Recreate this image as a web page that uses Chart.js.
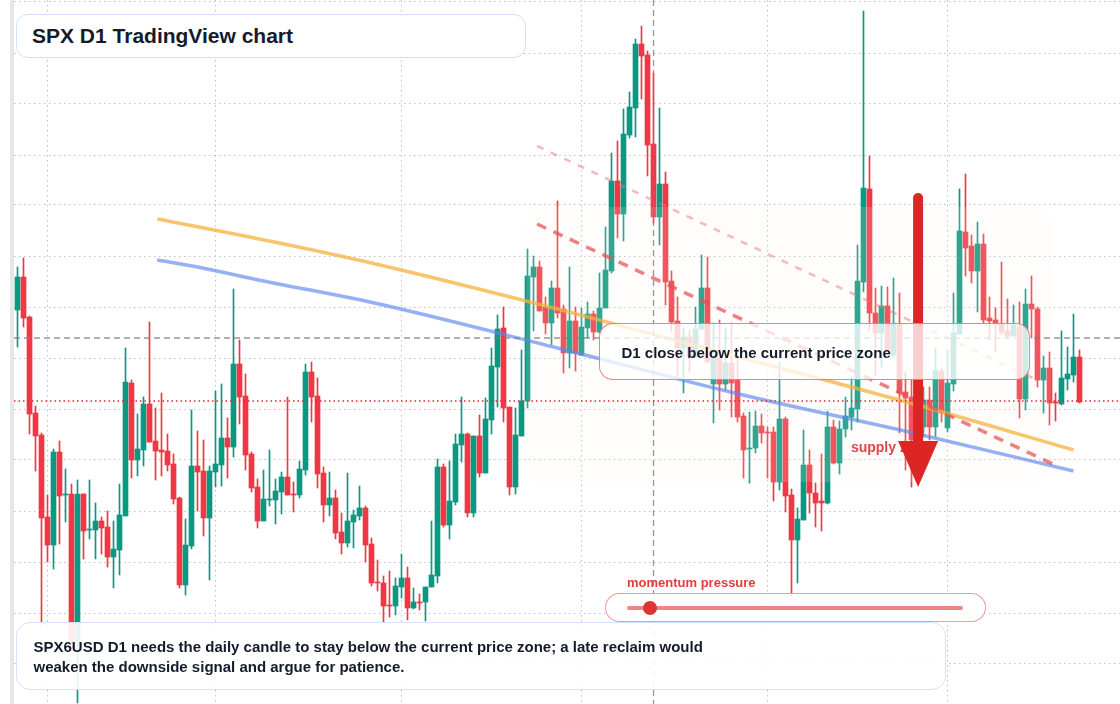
<!DOCTYPE html>
<html>
<head>
<meta charset="utf-8">
<script src="https://cdn.jsdelivr.net/npm/chart.js@4.4.1/dist/chart.umd.min.js"></script>
<style>
  body { margin: 0; background: #fff; font-family: "Liberation Sans", Arial, sans-serif; }
  #wrap { position: relative; width: 1120px; height: 704px; overflow: hidden; }
  #chart { position: absolute; left: 0; top: 0; }
  .box { position: absolute; box-sizing: border-box; font-weight: bold; color: #141b2b; white-space: nowrap; }
  #title { left: 16px; top: 14px; width: 510px; height: 44px; border: 1.5px solid #d0e0fb; border-radius: 12px;
           background: #fff; padding-left: 15px; font-size: 21px; line-height: 41px; }
  #callout { left: 599px; top: 323px; width: 431px; height: 57px; border: 1.5px solid rgba(232, 96, 100, 0.78);
             border-radius: 14px; background: rgba(255, 255, 255, 0.78); padding: 4px 0 0 21.5px;
             font-size: 15px; line-height: 50px; }
  #footer { left: 16px; top: 622px; width: 930px; height: 68px; border: 1.5px solid #d6e3fb; border-radius: 14px;
            background: rgba(255, 255, 255, 0.9); padding: 14px 0 0 16.5px; font-size: 15px; line-height: 20px; }
  #momLabel { position: absolute; left: 627px; top: 575px; font-size: 13px; line-height: 16px; font-weight: bold; color: #e23d3d; }
  #slider { position: absolute; box-sizing: border-box; left: 605px; top: 593px; width: 381px; height: 29px;
            border: 1.5px solid rgba(228, 88, 88, 0.6); border-radius: 15px; background: rgba(255, 255, 255, 0.85); }
  #track { position: absolute; left: 627px; top: 606px; width: 336px; height: 4px; border-radius: 2px; background: rgba(228, 70, 70, 0.65); }
  #knob { position: absolute; left: 643px; top: 601px; width: 14px; height: 14px; border-radius: 50%; background: #df3434; }
</style>
</head>
<body>
<div id="wrap">
  <canvas id="chart" width="1120" height="704"></canvas>
  <div class="box" id="title">SPX D1 TradingView chart</div>
  <div class="box" id="callout">D1 close below the current price zone</div>
  <div id="momLabel">momentum pressure</div>
  <div id="slider"></div>
  <div id="track"></div>
  <div id="knob"></div>
  <div class="box" id="footer">SPX6USD D1 needs the daily candle to stay below the current price zone; a late reclaim would<br>weaken the downside signal and argue for patience.</div>
</div>
<script>
// daily OHLC
const open = [6690, 6723, 6683, 6587, 6565, 6483, 6455, 6548, 6505, 6506,
  6358, 6506, 6470, 6470, 6479, 6473, 6443, 6450, 6484, 6617,
  6540, 6550, 6596, 6559, 6550, 6549, 6536, 6502, 6415, 6454,
  6534, 6529, 6482, 6528, 6535, 6562, 6553, 6636, 6604, 6546,
  6513, 6479, 6500, 6500, 6508, 6523, 6506, 6505, 6530, 6628,
  6604, 6527, 6495, 6502, 6468, 6457, 6478, 6484, 6492, 6456,
  6418, 6417, 6395, 6394, 6413, 6422, 6392, 6398, 6398, 6413,
  6424, 6533, 6475, 6498, 6555, 6566, 6487, 6564, 6527, 6580,
  6633, 6672, 6593, 6513, 6564, 6599, 6723, 6733, 6693, 6677,
  6712, 6691, 6647, 6679, 6645, 6672, 6686, 6668, 6692, 6729,
  6819, 6786, 6865, 6892, 6956, 6945, 6856, 6783, 6816, 6719,
  6679, 6652, 6663, 6643, 6671, 6712, 6616, 6642, 6616, 6637,
  6620, 6584, 6551, 6552, 6574, 6568, 6568, 6518, 6581, 6505,
  6460, 6480, 6535, 6507, 6499, 6497, 6573, 6537, 6571, 6583,
  6591, 6718, 6811, 6687, 6667, 6694, 6645, 6676, 6608, 6603,
  6560, 6573, 6600, 6573, 6629, 6572, 6616, 6666, 6768, 6754,
  6729, 6756, 6682, 6680, 6676, 6669, 6664, 6673, 6601, 6696,
  6691, 6620, 6632, 6598, 6596, 6621, 6625, 6643];
const high = [6733, 6742, 6684, 6594, 6567, 6505, 6551, 6559, 6531, 6516,
  6520, 6506, 6520, 6497, 6483, 6489, 6479, 6516, 6652, 6620,
  6586, 6603, 6678, 6592, 6607, 6566, 6546, 6503, 6481, 6590,
  6569, 6560, 6534, 6609, 6616, 6582, 6711, 6660, 6626, 6548,
  6521, 6530, 6550, 6521, 6528, 6603, 6518, 6539, 6636, 6638,
  6622, 6533, 6528, 6510, 6487, 6527, 6490, 6514, 6494, 6462,
  6440, 6424, 6429, 6422, 6446, 6433, 6412, 6406, 6413, 6479,
  6541, 6536, 6539, 6566, 6603, 6567, 6564, 6585, 6602, 6652,
  6685, 6693, 6593, 6592, 6650, 6751, 6744, 6739, 6703, 6719,
  6799, 6695, 6733, 6693, 6692, 6698, 6689, 6727, 6773, 6847,
  6859, 6891, 6908, 6961, 6974, 6949, 6927, 6892, 6828, 6729,
  6703, 6672, 6670, 6693, 6745, 6743, 6677, 6680, 6672, 6677,
  6643, 6587, 6588, 6589, 6586, 6573, 6573, 6638, 6583, 6511,
  6492, 6570, 6550, 6517, 6546, 6589, 6580, 6579, 6603, 6623,
  6755, 6989, 6844, 6712, 6714, 6713, 6722, 6707, 6628, 6620,
  6605, 6613, 6613, 6652, 6632, 6650, 6707, 6811, 6826, 6765,
  6778, 6766, 6703, 6692, 6738, 6701, 6695, 6698, 6711, 6724,
  6693, 6644, 6648, 6607, 6669, 6653, 6686, 6650];
const low = [6653, 6673, 6566, 6529, 6375, 6438, 6431, 6456, 6478, 6350,
  6297, 6441, 6461, 6441, 6446, 6433, 6412, 6425, 6484, 6522,
  6524, 6534, 6558, 6520, 6524, 6529, 6496, 6412, 6405, 6451,
  6489, 6464, 6420, 6513, 6514, 6522, 6543, 6576, 6530, 6508,
  6472, 6479, 6494, 6476, 6486, 6505, 6488, 6502, 6525, 6578,
  6512, 6478, 6484, 6461, 6446, 6453, 6452, 6480, 6438, 6414,
  6409, 6377, 6383, 6385, 6402, 6380, 6391, 6390, 6379, 6413,
  6417, 6473, 6461, 6495, 6538, 6483, 6483, 6523, 6527, 6566,
  6593, 6578, 6505, 6506, 6564, 6592, 6669, 6689, 6666, 6655,
  6682, 6627, 6632, 6629, 6645, 6662, 6660, 6667, 6692, 6727,
  6762, 6759, 6862, 6863, 6901, 6824, 6777, 6755, 6695, 6668,
  6623, 6607, 6628, 6642, 6671, 6637, 6577, 6590, 6610, 6583,
  6578, 6522, 6517, 6547, 6557, 6522, 6499, 6510, 6488, 6403,
  6417, 6480, 6487, 6473, 6469, 6496, 6536, 6526, 6563, 6570,
  6578, 6708, 6670, 6625, 6633, 6648, 6643, 6567, 6530, 6513,
  6550, 6563, 6560, 6563, 6578, 6568, 6609, 6666, 6724, 6717,
  6688, 6677, 6660, 6648, 6665, 6662, 6664, 6582, 6590, 6662,
  6613, 6587, 6575, 6579, 6595, 6610, 6618, 6597];
const close = [6723, 6682, 6586, 6564, 6482, 6455, 6548, 6504, 6506, 6358,
  6506, 6469, 6471, 6479, 6472, 6443, 6451, 6485, 6618, 6540,
  6551, 6596, 6558, 6549, 6548, 6535, 6501, 6415, 6455, 6534,
  6528, 6482, 6529, 6536, 6562, 6553, 6636, 6603, 6545, 6512,
  6479, 6501, 6501, 6509, 6523, 6505, 6505, 6531, 6628, 6603,
  6526, 6495, 6502, 6467, 6457, 6479, 6485, 6492, 6455, 6417,
  6417, 6394, 6394, 6414, 6422, 6392, 6398, 6397, 6413, 6425,
  6533, 6475, 6499, 6556, 6566, 6487, 6564, 6527, 6581, 6634,
  6671, 6592, 6513, 6565, 6599, 6724, 6733, 6689, 6677, 6712,
  6687, 6647, 6679, 6647, 6673, 6686, 6668, 6692, 6730, 6819,
  6786, 6866, 6893, 6956, 6944, 6855, 6783, 6816, 6718, 6678,
  6652, 6663, 6643, 6671, 6712, 6638, 6642, 6616, 6637, 6617,
  6583, 6550, 6552, 6574, 6567, 6567, 6518, 6581, 6504, 6460,
  6481, 6535, 6507, 6497, 6497, 6573, 6537, 6571, 6584, 6592,
  6719, 6812, 6687, 6667, 6694, 6650, 6676, 6607, 6602, 6560,
  6595, 6600, 6573, 6630, 6587, 6617, 6667, 6769, 6752, 6729,
  6756, 6680, 6679, 6676, 6668, 6664, 6675, 6601, 6696, 6691,
  6620, 6632, 6597, 6597, 6622, 6626, 6643, 6598];

// grid: month starts (bar index) and price levels
const monthStarts = [5, 33, 64, 94, 125, 155];
const priceGrid = [6998, 6947, 6896, 6845, 6795, 6744, 6693, 6642, 6591, 6540, 6489, 6438, 6387, 6337];

// moving averages (sampled points)
const fastDays = [23.3, 42, 59, 90, 119.5, 150, 176];
const fastMA = [6781, 6759, 6737, 6691, 6644, 6595, 6550];
const slowDays = [23.3, 30, 41, 59.5, 90, 119.5, 150, 176];
const slowMA = [6740, 6733, 6719, 6697, 6652, 6607, 6566, 6529];

// trend lines
const upperDays = [86.6, 169.6];
const upperLine = [6854, 6621];
const lowerDays = [86.6, 172.6];
const lowerLine = [6776, 6536];

// annotations
const zoneDays = [84.8, 172.3];
const zonePrices = [6518, 6793];
const closeLevel = 6662;
const triggerLevel = 6599;
const cursorDay = 106;
const arrowDay = 150.1;
const arrowPrices = [6802, 6513];
const supplyAt = [138.9, 6548];

const days = open.map((v, i) => i);
const GREEN = '#089981';
const RED = '#f23645';
const candleColors = days.map(i => close[i] >= open[i] ? GREEN : RED);

const xMin = -0.5833;
const xMax = 183.75;

const annotations = {
  id: 'annotations',
  beforeDatasetsDraw(chart) {
    const ctx = chart.ctx;
    ctx.save();
    ctx.fillStyle = '#e7e7e7';
    ctx.fillRect(10, 0, 4, chart.height);
    ctx.restore();
  },
  afterDatasetDraw(chart, args) {
    if (args.meta.label !== 'body') return;
    const ctx = chart.ctx;
    const x = chart.scales.x, y = chart.scales.y;
    const x0 = x.getPixelForValue(zoneDays[0]), x1 = x.getPixelForValue(zoneDays[1]);
    const y0 = y.getPixelForValue(zonePrices[1]), y1 = y.getPixelForValue(zonePrices[0]);
    ctx.save();
    ctx.fillStyle = 'rgba(250,240,232,0.16)';
    ctx.beginPath();
    ctx.roundRect(x0, y0, x1 - x0, y1 - y0, 20);
    ctx.fill();
    ctx.restore();
  },
  afterDatasetsDraw(chart) {
    const ctx = chart.ctx;
    const area = chart.chartArea;
    const x = chart.scales.x, y = chart.scales.y;
    ctx.save();

    // current price level
    let py = y.getPixelForValue(closeLevel);
    ctx.strokeStyle = 'rgba(125,125,125,0.8)';
    ctx.lineWidth = 1.3;
    ctx.setLineDash([6, 4]);
    ctx.beginPath(); ctx.moveTo(area.left, py); ctx.lineTo(area.right, py); ctx.stroke();

    // crosshair day
    const cx = x.getPixelForValue(cursorDay);
    ctx.beginPath(); ctx.moveTo(cx, area.top); ctx.lineTo(cx, area.bottom); ctx.stroke();

    // trigger level
    py = y.getPixelForValue(triggerLevel);
    ctx.strokeStyle = '#e0282e';
    ctx.lineWidth = 1.4;
    ctx.setLineDash([1.5, 3]);
    ctx.beginPath(); ctx.moveTo(area.left, py); ctx.lineTo(area.right, py); ctx.stroke();
    ctx.setLineDash([]);

    // supply zone label
    ctx.font = 'bold 14px "Liberation Sans", Arial, sans-serif';
    ctx.fillStyle = '#e0474c';
    ctx.textBaseline = 'alphabetic';
    ctx.fillText('supply zone', x.getPixelForValue(supplyAt[0]), y.getPixelForValue(supplyAt[1]));

    // down arrow
    const ax = x.getPixelForValue(arrowDay);
    const yTop = y.getPixelForValue(arrowPrices[0]);
    const yTip = y.getPixelForValue(arrowPrices[1]);
    const headH = 46, headW = 20;
    ctx.strokeStyle = '#dc2626';
    ctx.fillStyle = '#dc2626';
    ctx.lineWidth = 10;
    ctx.lineCap = 'round';
    ctx.beginPath(); ctx.moveTo(ax, yTop); ctx.lineTo(ax, yTip - headH + 4); ctx.stroke();
    ctx.beginPath();
    ctx.moveTo(ax - headW, yTip - headH);
    ctx.lineTo(ax + headW, yTip - headH);
    ctx.lineTo(ax, yTip);
    ctx.closePath();
    ctx.fill();
    ctx.restore();
  }
};

const gridStyle = { color: 'rgba(172,178,186,0.8)', lineWidth: 1, drawTicks: false, offset: false };
const borderStyle = { display: false, dash: [1.5, 3.5] };

new Chart(document.getElementById('chart'), {
  type: 'bar',
  data: {
    datasets: [
      {
        type: 'line', label: 'trend upper', order: 0,
        data: upperDays.map((d, i) => ({ x: d, y: upperLine[i] })),
        borderColor: 'rgba(238,118,122,0.5)', borderWidth: 2.5, borderDash: [7, 8], pointRadius: 0
      },
      {
        type: 'line', label: 'trend lower', order: 0,
        data: lowerDays.map((d, i) => ({ x: d, y: lowerLine[i] })),
        borderColor: 'rgba(228,80,84,0.72)', borderWidth: 3.5, borderDash: [10, 8], pointRadius: 0
      },
      {
        type: 'line', label: 'fast MA', order: 1,
        data: fastDays.map((d, i) => ({ x: d, y: fastMA[i] })),
        borderColor: 'rgba(246,178,62,0.75)', borderWidth: 3.5, pointRadius: 0, cubicInterpolationMode: 'monotone'
      },
      {
        type: 'line', label: 'slow MA', order: 1,
        data: slowDays.map((d, i) => ({ x: d, y: slowMA[i] })),
        borderColor: 'rgba(92,134,240,0.65)', borderWidth: 3.5, pointRadius: 0, cubicInterpolationMode: 'monotone'
      },
      {
        label: 'body', order: 3, grouped: false,
        data: days.map(i => ({ x: i, y: [open[i], close[i]] })),
        backgroundColor: candleColors, barThickness: 5, minBarLength: 1
      },
      {
        label: 'wick', order: 4, grouped: false,
        data: days.map(i => ({ x: i, y: [low[i], high[i]] })),
        backgroundColor: candleColors, barThickness: 1
      }
    ]
  },
  options: {
    responsive: false,
    animation: false,
    events: [],
    layout: { padding: { left: 14, right: 0, top: 0, bottom: 0 } },
    plugins: { legend: { display: false }, tooltip: { enabled: false } },
    scales: {
      x: {
        type: 'linear', min: xMin, max: xMax, offset: false,
        afterBuildTicks: s => { s.ticks = monthStarts.map(v => ({ value: v })); },
        ticks: { display: false }, grid: gridStyle, border: borderStyle
      },
      y: {
        type: 'linear', min: 6296, max: 7000,
        afterBuildTicks: s => { s.ticks = priceGrid.map(v => ({ value: v })); },
        ticks: { display: false }, grid: gridStyle, border: borderStyle
      }
    }
  },
  plugins: [annotations]
});
</script>
</body>
</html>
